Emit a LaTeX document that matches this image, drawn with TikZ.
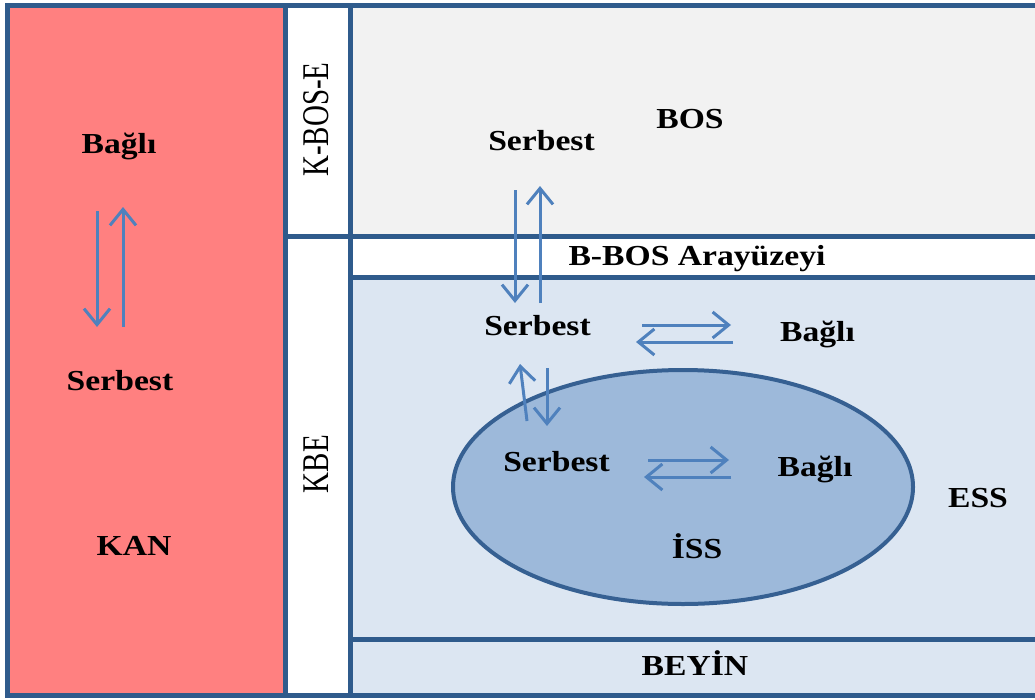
\documentclass[tikz,border=0pt]{standalone}
\usepackage{fontspec}
\setmainfont{Liberation Serif}
\newfontfamily\lblfont[FakeStretch=1.16]{Liberation Serif}
\usetikzlibrary{arrows.meta,shapes.geometric}
\definecolor{frameblue}{HTML}{2F5B8C}
\definecolor{kanred}{HTML}{FF8080}
\definecolor{bosgray}{HTML}{F2F2F2}
\definecolor{esslight}{HTML}{DCE6F2}
\definecolor{issblue}{HTML}{9DB9DA}
\definecolor{issborder}{HTML}{366092}
\definecolor{arrowblue}{HTML}{4F81BD}
\begin{document}
\begin{tikzpicture}[x=1pt,y=-1pt,
  frameline/.style={draw=frameblue, line width=5pt},
  lbl/.style={font=\lblfont\fontsize{29}{30}\selectfont\bfseries, anchor=base, inner sep=0pt},
  vlbl/.style={font=\fontsize{29}{30}\selectfont, rotate=90, yscale=1.3, anchor=base, inner sep=0pt},
  flow/.style={draw=arrowblue, line width=3pt, -{Straight Barb[length=16pt,width=26pt]}}]
\useasboundingbox (0,0) rectangle (1035,699);
\clip (0,0) rectangle (1035,699);
\fill[white] (0,0) rectangle (1035,699);
% region fills
\fill[kanred] (7,5) rectangle (285,695);
\fill[white] (285,5) rectangle (350,695);
\fill[bosgray] (350,5) rectangle (1045,236);
\fill[white] (350,236) rectangle (1045,277.5);
\fill[esslight] (350,277.5) rectangle (1045,695);
% frame lines
\draw[frameline] (7,5) rectangle (1045,695);
\draw[frameline] (285,5) -- (285,695);
\draw[frameline] (350,5) -- (350,695);
\draw[frameline] (285,236) -- (1045,236);
\draw[frameline] (350,277.5) -- (1045,277.5);
\draw[frameline] (350,639) -- (1045,639);
% ISS ellipse
\node[ellipse, draw=issborder, fill=issblue, line width=4pt, minimum width=460pt, minimum height=234pt, inner sep=0pt] (iss) at (683,487) {};
% labels
\node[lbl] (kanbagli) at (119,153) {Bağlı};
\node[lbl] (kanserbest) at (120,390) {Serbest};
\node[lbl] (kan) at (134,555) {KAN};
\node[vlbl] (kbose) at (328,119.5) {K-BOS-E};
\node[vlbl] (kbe) at (328,464) {KBE};
\node[lbl] (bos) at (690,128) {BOS};
\node[lbl] (bosserbest) at (541.5,150) {Serbest};
\node[lbl] (bbos) at (697,265) {B-BOS Arayüzeyi};
\node[lbl] (essserbest) at (537.5,335) {Serbest};
\node[lbl] (essbagli) at (817.5,341.5) {Bağlı};
\node[lbl] (issserbest) at (556.5,471) {Serbest};
\node[lbl] (issbagli) at (815,476) {Bağlı};
\node[lbl] (isslbl) at (697,558) {İSS};
\node[lbl] (ess) at (978,507) {ESS};
\node[lbl] (beyin) at (695,675) {BEYİN};
% arrow end points
\coordinate (ka1) at (97,211);  \coordinate (ka2) at (97,327);
\coordinate (kb1) at (123,327); \coordinate (kb2) at (123,207);
\coordinate (ba1) at (515,190); \coordinate (ba2) at (515,303);
\coordinate (bb1) at (540,303); \coordinate (bb2) at (540,186);
\coordinate (ea1) at (642,325); \coordinate (ea2) at (731,325);
\coordinate (eb1) at (733,342); \coordinate (eb2) at (636,342);
\coordinate (va1) at (527,421); \coordinate (va2) at (520,364);
\coordinate (vb1) at (547,368); \coordinate (vb2) at (547,426);
\coordinate (ia1) at (648,460); \coordinate (ia2) at (729,460);
\coordinate (ib1) at (731,477); \coordinate (ib2) at (644,477);
% arrows
\draw[flow] (ka1) -- (ka2);
\draw[flow] (kb1) -- (kb2);
\draw[flow] (ba1) -- (ba2);
\draw[flow] (bb1) -- (bb2);
\draw[flow] (ea1) -- (ea2);
\draw[flow] (eb1) -- (eb2);
\draw[flow] (va1) -- (va2);
\draw[flow] (vb1) -- (vb2);
\draw[flow] (ia1) -- (ia2);
\draw[flow] (ib1) -- (ib2);
\end{tikzpicture}
\end{document}
